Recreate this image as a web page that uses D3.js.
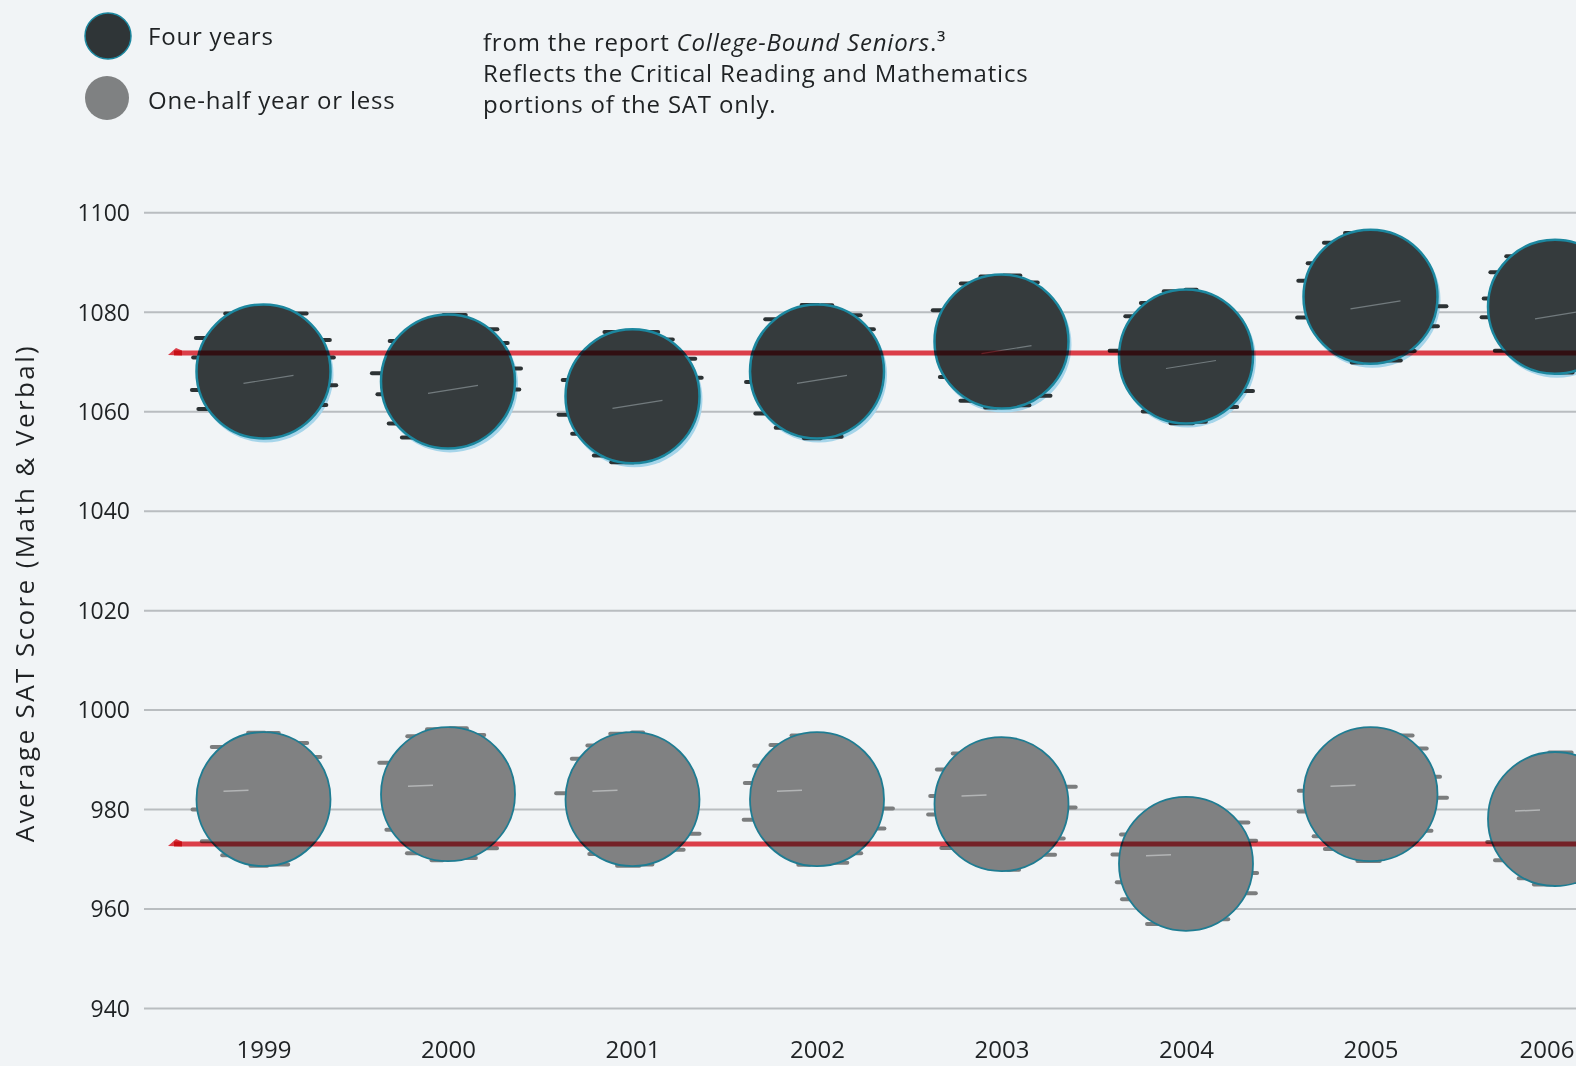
<html>
<head>
<script src="https://d3js.org/d3.v7.min.js"></script>
<style>
    body { margin: 0; background: #f1f4f6; }
    svg { display: block; font-family: 'Open Sans', 'Noto Sans', sans-serif; }
    .grid line { stroke: #b9bdc0; stroke-width: 2px; }
    .grid text { fill: #1f2224; font-family: 'Open Sans', sans-serif; font-size: 23px; font-weight: 500; }
    .years text { fill: #1f2224; font-family: 'Open Sans', sans-serif; font-size: 24px; font-weight: 500; }
    .label { fill: #1f2224; font-size: 24px; font-weight: 500; letter-spacing: 0.8px; }
    .note { fill: #1f2224; font-size: 24px; font-weight: 500; letter-spacing: 0.8px; }
    .ref-line { stroke: #e8414b; stroke-width: 5px; mix-blend-mode: multiply; fill: none; }
    .ref-tip { fill: #e8414b; mix-blend-mode: multiply; }
</style>
</head>
<body>
<svg id='the-chart' width=1576 height=1066></svg>

<script>
    // scores
    var years = [1999, 2000, 2001, 2002, 2003, 2004, 2005, 2006];
    var fourYears = [1068, 1066, 1063, 1068, 1074, 1071, 1083, 1081];
    var halfYear  = [982, 983, 982, 982, 981, 969, 983, 978];
    var refLines = [1071.7, 973];
    var yTicks = [940, 960, 980, 1000, 1020, 1040, 1060, 1080, 1100];
    var seriesNames = ['Four years', 'One-half year or less'];
    var noteLines = ['from the report ', 'Reflects the Critical Reading and Mathematics', 'portions of the SAT only.'];

    var svg = d3.select('#the-chart');
    var width = +svg.attr('width'), height = +svg.attr('height');
    var gridLeft = 144;

    var y = d3.scaleLinear().domain([940, 1100]).range([1008, 212.3]);
    var x = d3.scaleLinear().domain([1999, 2006]).range([263.5, 1555]);
    var r = 67;

    // horizontal grid + tick labels
    var grid = svg.append('g')
        .attr('class', 'grid')
        .attr('transform', 'translate(' + gridLeft + ',0)')
        .call(d3.axisLeft(y).tickValues(yTicks).tickSize(-(width - gridLeft)).tickPadding(14).tickFormat(d3.format('d')));
    grid.select('.domain').remove();
    grid.selectAll('text').attr('dy', '0.36em');

    // year labels
    var xa = svg.append('g')
        .attr('class', 'years')
        .attr('transform', 'translate(0,1041)')
        .call(d3.axisBottom(x).tickValues(years).tickSize(0).tickPadding(0).tickFormat(d3.format('d')));
    xa.select('.domain').remove();
    // keep last label inside the frame
    xa.selectAll('text').filter(function(d) { return d === years[years.length - 1]; })
        .attr('text-anchor', 'end').attr('x', width - 2 - x(years[years.length - 1]));

    // rough edge stubs, fixed pattern
    var stubAngles = [12, 28, 150, 168, 196, 214, 330, 348, 60, 120];
    function roughEdges(sel, cx, cy, color, k) {
        stubAngles.forEach(function(a, j) {
            var ang = (a + k * 23) * Math.PI / 180;
            var px = cx + Math.cos(ang) * r, py = cy - Math.sin(ang) * r;
            var len = 8 + (j % 3) * 4;
            var dir = Math.cos(ang) >= 0 ? 1 : -1;
            sel.append('line')
                .attr('x1', px - dir * len * 0.8).attr('x2', px + dir * len * 0.6)
                .attr('y1', py).attr('y2', py)
                .attr('stroke', color).attr('stroke-width', 4).attr('stroke-linecap', 'round');
        });
    }

    // four years dots
    var dark = svg.append('g');
    years.forEach(function(yr, i) {
        var cx = x(yr), cy = y(fourYears[i]);
        dark.append('circle').attr('cx', cx + 2).attr('cy', cy + 3).attr('r', r + 1).attr('fill', '#a6d5ea');
        roughEdges(dark, cx, cy, '#2c3234', i);
        dark.append('circle').attr('cx', cx).attr('cy', cy).attr('r', r)
            .attr('fill', '#353b3d').attr('stroke', '#1c879f').attr('stroke-width', 2.5);
        dark.append('line').attr('x1', cx - 20).attr('x2', cx + 30).attr('y1', cy + 12).attr('y2', cy + 4)
            .attr('stroke', '#9aa4a8').attr('stroke-width', 1.2).attr('opacity', 0.6);
    });

    // half year dots
    var grey = svg.append('g');
    years.forEach(function(yr, i) {
        var cx = x(yr), cy = y(halfYear[i]);
        roughEdges(grey, cx, cy, '#7b7d7e', i + 3);
        grey.append('circle').attr('cx', cx).attr('cy', cy).attr('r', r)
            .attr('fill', '#808182').attr('stroke', '#1f7c92').attr('stroke-width', 1.8);
        grey.append('line').attr('x1', cx - 40).attr('x2', cx - 15).attr('y1', cy - 8).attr('y2', cy - 9)
            .attr('stroke', '#c8cacb').attr('stroke-width', 1.5).attr('opacity', 0.7);
    });

    // red reference lines
    var refStart = 168;
    refLines.forEach(function(v) {
        var ry = y(v);
        svg.append('line').attr('class', 'ref-line')
            .attr('x1', refStart + 6).attr('x2', width).attr('y1', ry).attr('y2', ry);
        svg.append('path').attr('class', 'ref-tip')
            .attr('d', 'M' + refStart + ',' + (ry + 2) + ' L' + (refStart + 8) + ',' + (ry - 5) + ' L' + (refStart + 14) + ',' + (ry - 2.5) + ' L' + (refStart + 14) + ',' + (ry + 2.5) + ' Z');
    });

    // y axis title
    svg.append('text').attr('class', 'label')
        .attr('transform', 'translate(34,593) rotate(-90)')
        .attr('text-anchor', 'middle')
        .style('font-size', '26px')
        .style('letter-spacing', '2.4px')
        .text('Average SAT Score (Math & Verbal)');

    // legend
    var legend = svg.append('g');
    legend.append('circle').attr('cx', 108).attr('cy', 36).attr('r', 23)
        .attr('fill', '#2f3537').attr('stroke', '#1c879f').attr('stroke-width', 1.5);
    legend.append('circle').attr('cx', 107).attr('cy', 98).attr('r', 22).attr('fill', '#7f8182');
    legend.selectAll('text.leg').data(seriesNames).enter().append('text')
        .attr('class', 'label')
        .attr('x', 148)
        .attr('y', function(d, i) { return i === 0 ? 45 : 109; })
        .text(function(d) { return d; });

    // note
    var note = svg.append('text').attr('class', 'note').attr('x', 483).attr('y', 51);
    note.append('tspan').text(noteLines[0]);
    note.append('tspan').style('font-style', 'italic').text('College-Bound Seniors');
    note.append('tspan').text('.³');
    svg.append('text').attr('class', 'note').attr('x', 483).attr('y', 82).text(noteLines[1]);
    svg.append('text').attr('class', 'note').attr('x', 483).attr('y', 113).text(noteLines[2]);
</script>
</body>
</html>
